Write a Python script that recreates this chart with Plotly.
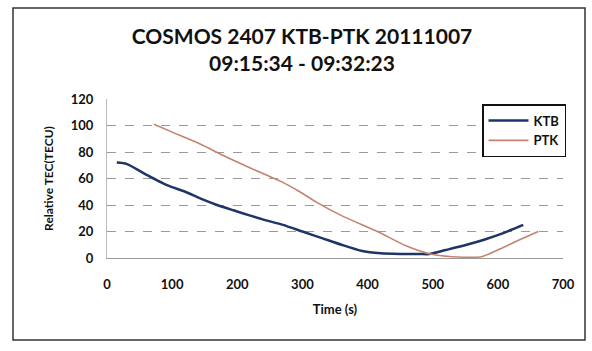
import plotly.graph_objects as go

ktb_t = [15, 30, 60, 92, 120, 143, 169, 194, 220, 240, 270, 300, 330, 360, 390, 420, 450, 480, 495, 520, 552, 580, 604, 639]
ktb_tec = [72, 71, 63, 55, 50, 45, 40, 36, 32, 29, 25, 20, 15, 10, 5.5, 3.5, 3, 3, 3, 6, 10, 14, 18, 25]

ptk_t = [72, 100, 143, 180, 220, 266, 296, 322, 360, 415, 460, 496, 530, 575, 604, 630, 662]
ptk_tec = [101, 95, 86, 77, 68, 58, 50, 42, 32, 20, 9, 3, 1, 1, 7, 13, 20]

x_ticks = [0, 100, 200, 300, 400, 500, 600, 700]
y_ticks = [0, 20, 40, 60, 80, 100, 120]

FONT = "Lato"

fig = go.Figure()
fig.add_trace(go.Scatter(x=ktb_t, y=ktb_tec, mode="lines", name="KTB",
                         line=dict(color="#1f3566", width=2.5, shape="spline", smoothing=0.6)))
fig.add_trace(go.Scatter(x=ptk_t, y=ptk_tec, mode="lines", name="PTK",
                         line=dict(color="#c4826f", width=1.6, shape="spline", smoothing=0.6)))

L, R, T, B = 107, 29, 99, 93
W, H = 592, 351
pw, ph = W - L - R, H - T - B

def px(x):
    return (x - L) / pw

def py(y):
    return (H - B - y) / ph

fig.update_layout(
    width=W, height=H,
    margin=dict(l=L, r=R, t=T, b=B),
    paper_bgcolor="white", plot_bgcolor="white",
    font=dict(family=FONT, color="#111"),
    title=dict(text="COSMOS 2407 KTB-PTK 20111007<br>09:15:34 - 09:32:23",
               x=px(302), xref="paper", xanchor="center",
               y=1 - 44 / H, yanchor="middle",
               font=dict(family=FONT, size=21, color="#111", weight="bold")),
    showlegend=True,
    legend=dict(x=px(482), y=py(104), xanchor="left", yanchor="top",
                bordercolor="#111", borderwidth=1.5, bgcolor="white",
                font=dict(family=FONT, size=13, color="#111", weight="bold"),
                itemwidth=40, tracegroupgap=0),
    xaxis=dict(range=[0, 700], tickvals=x_ticks, ticks="", showgrid=False,
               zeroline=False, showline=True, linecolor="#9a9a9a", linewidth=1,
               ticklabelstandoff=14,
               tickfont=dict(family=FONT, size=13, color="#111", weight="bold"),
               title=dict(text="Time (s)", standoff=14,
                          font=dict(family=FONT, size=13, color="#111", weight="bold"))),
    yaxis=dict(range=[0, 120], tickvals=y_ticks, ticks="", showgrid=True,
               gridcolor="#9a9a9a", griddash="dash", gridwidth=1,
               zeroline=False, showline=True, linecolor="#bbbbbb", linewidth=1,
               tickfont=dict(family=FONT, size=13, color="#111", weight="bold"),
               ticklabelstandoff=10,
               title=dict(text="Relative TEC(TECU)", standoff=14,
                          font=dict(family=FONT, size=12, color="#111", weight="bold"))),
)

# chart outer border
fig.add_shape(type="rect", xref="paper", yref="paper",
              x0=px(13), x1=px(585), y0=py(340), y1=py(8),
              line=dict(color="#333", width=1.5), fillcolor="rgba(0,0,0,0)", layer="below")

fig.write_html("out.html")
